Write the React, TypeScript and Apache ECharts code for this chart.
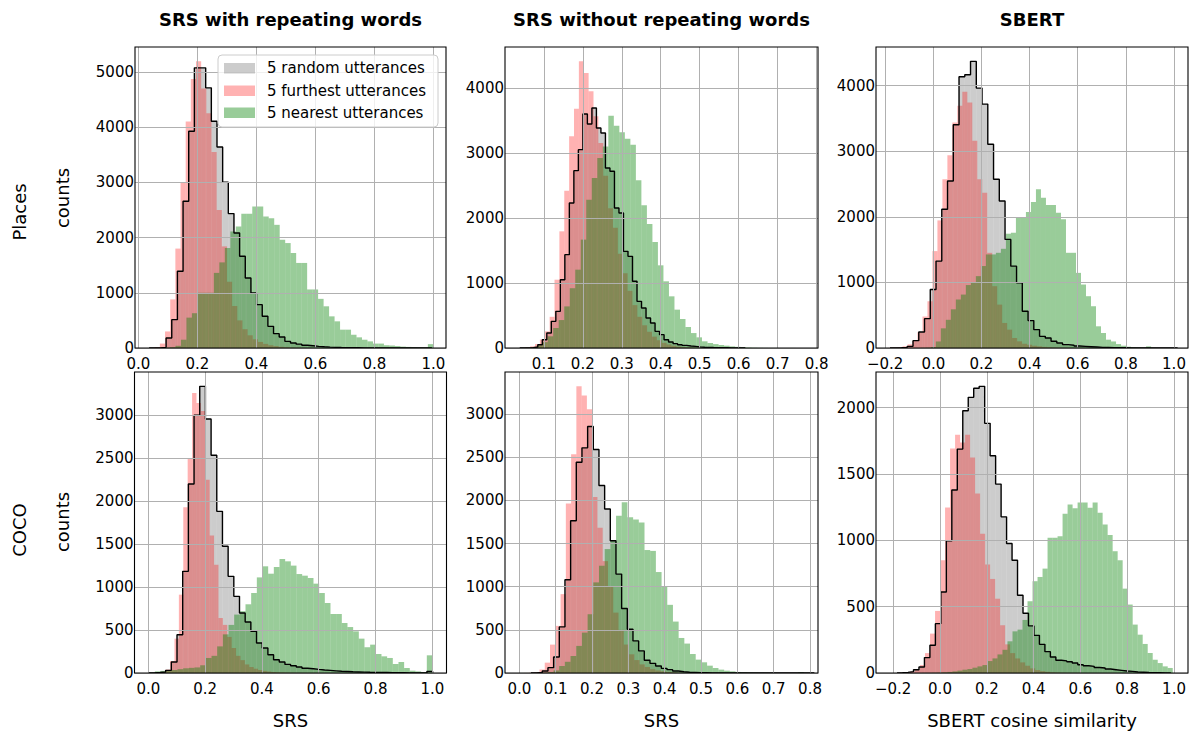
import React, { useEffect, useRef } from "react";
import * as echarts from "echarts";

// ---------- tick values ----------
const X_TICKS_0_TO_1 = [0, 0.2, 0.4, 0.6, 0.8, 1.0];
const X_TICKS_01_TO_08 = [0.1, 0.2, 0.3, 0.4, 0.5, 0.6, 0.7, 0.8];
const X_TICKS_0_TO_08 = [0, 0.1, 0.2, 0.3, 0.4, 0.5, 0.6, 0.7, 0.8];
const X_TICKS_M02_TO_1 = [-0.2, 0, 0.2, 0.4, 0.6, 0.8, 1.0];
const Y_TICKS_5000 = [0, 1000, 2000, 3000, 4000, 5000];
const Y_TICKS_4000 = [0, 1000, 2000, 3000, 4000];
const Y_TICKS_3000 = [0, 500, 1000, 1500, 2000, 2500, 3000];
const Y_TICKS_2000 = [0, 500, 1000, 1500, 2000];

// ---------- texts ----------
const COLUMN_TITLES = ["SRS with repeating words", "SRS without repeating words", "SBERT"];
const ROW_NAMES = ["Places", "COCO"];
const X_NAMES = ["SRS", "SRS", "SBERT cosine similarity"];
const LEGEND_NAMES = ["5 random utterances", "5 furthest utterances", "5 nearest utterances"];

// ---------- Places / SRS with repeating words ----------
const p1RandomStart = 0.0366, p1RandomWidth = 0.01917;
const p1RandomCounts = [0, 2, 12, 180, 513, 1390, 2657, 3925, 5072, 5072, 4710, 4106, 3640, 3000, 2433, 2083, 1660, 1268, 996, 785, 574, 392, 260, 200, 120, 90, 70, 50, 40, 30, 22, 16, 12, 9, 7, 5, 4, 3, 2, 2, 1, 1, 1, 1, 0, 0, 0, 0, 0, 1];
const p1FurthestStart = 0.0555, p1FurthestWidth = 0.0175;
const p1FurthestCounts = [15, 80, 300, 880, 1800, 3000, 4100, 4870, 5190, 4700, 4250, 3550, 2500, 1840, 1200, 760, 500, 340, 230, 160, 110, 75, 50, 35, 22, 14, 9, 6, 4, 2, 1, 1, 1, 1, 0, 0, 0, 0, 0, 0, 0, 0, 0, 0, 0, 0, 0, 0, 0, 0];
const p1NearestStart = 0.07, p1NearestWidth = 0.0186;
const p1NearestCounts = [2, 8, 15, 40, 150, 550, 630, 1000, 1000, 1000, 1360, 1550, 1810, 2110, 2200, 2430, 2430, 2560, 2560, 2380, 2350, 2230, 1960, 1900, 1720, 1540, 1540, 1060, 1060, 890, 755, 573, 483, 332, 332, 240, 193, 150, 120, 80, 80, 50, 45, 35, 25, 20, 15, 10, 8, 70];

// ---------- Places / SRS without repeating words ----------
const p2RandomStart = 0.0383, p2RandomWidth = 0.01157;
const p2RandomCounts = [1, 2, 5, 15, 51, 128, 230, 410, 564, 1051, 1436, 2231, 2728, 3051, 3600, 3446, 3692, 3385, 3308, 2769, 2718, 2154, 2077, 1487, 1410, 1026, 718, 615, 462, 385, 256, 205, 128, 92, 67, 51, 40, 30, 25, 18, 12, 10, 7, 5, 4, 3, 2, 1, 1, 1];
const p2FurthestStart = 0.0525, p2FurthestWidth = 0.0125;
const p2FurthestCounts = [8, 25, 60, 130, 256, 480, 1051, 1795, 2420, 3256, 3682, 4410, 4230, 3950, 3564, 3154, 2650, 2150, 1850, 1450, 1150, 880, 660, 480, 350, 250, 175, 120, 80, 55, 35, 22, 14, 9, 6, 4, 3, 2, 1, 1, 1, 0, 0, 0, 0, 0, 0, 0, 0, 0];
const p2NearestStart = 0.0393, p2NearestWidth = 0.01414;
const p2NearestCounts = [2, 5, 15, 40, 90, 180, 308, 430, 640, 920, 1205, 1667, 2282, 2615, 2923, 3100, 3574, 3420, 3318, 3220, 3128, 2580, 2195, 1908, 1631, 1272, 1026, 795, 590, 446, 323, 230, 164, 103, 77, 60, 46, 36, 25, 18, 12, 8, 5, 3, 2, 1, 1, 0, 0, 1];

// ---------- Places / SBERT ----------
const p3RandomStart = -0.18, p3RandomWidth = 0.0239;
const p3RandomCounts = [2, 5, 10, 25, 112, 245, 448, 892, 1325, 2115, 2548, 3404, 4138, 4168, 4372, 3964, 3720, 3108, 2573, 2242, 1656, 1248, 994, 560, 418, 280, 178, 153, 102, 76, 51, 41, 30, 25, 20, 15, 10, 8, 6, 4, 3, 2, 2, 1, 1, 0, 0, 0, 0, 0];
const p3FurthestStart = -0.19, p3FurthestWidth = 0.0207;
const p3FurthestCounts = [2, 5, 12, 25, 55, 110, 240, 480, 713, 1478, 1946, 2573, 2940, 3439, 3694, 3908, 3745, 3159, 2573, 2369, 1452, 943, 662, 382, 280, 153, 102, 66, 50, 35, 25, 18, 12, 8, 5, 3, 2, 2, 1, 1, 1, 0, 0, 0, 0, 0, 0, 0, 0, 0];
const p3NearestStart = -0.052, p3NearestWidth = 0.0208;
const p3NearestCounts = [2, 5, 15, 100, 300, 430, 590, 740, 815, 960, 1000, 1096, 1250, 1427, 1427, 1452, 1513, 1743, 1758, 1987, 1987, 2074, 2227, 2420, 2293, 2180, 2180, 2064, 1962, 1452, 1452, 1146, 968, 790, 637, 331, 229, 127, 100, 60, 35, 20, 12, 8, 5, 25, 3, 1, 1, 1];

// ---------- COCO / SRS with repeating words ----------
const p4RandomStart = 0.001, p4RandomWidth = 0.02;
const p4RandomCounts = [2, 5, 12, 31, 128, 446, 1183, 2200, 3000, 3337, 2957, 2534, 1882, 1475, 1125, 892, 698, 594, 485, 349, 291, 213, 155, 128, 100, 85, 70, 55, 50, 42, 35, 30, 25, 20, 17, 14, 12, 10, 8, 7, 6, 5, 4, 3, 3, 2, 2, 2, 1, 19];
const p4FurthestStart = 0.0145, p4FurthestWidth = 0.0155;
const p4FurthestCounts = [2, 5, 10, 40, 140, 400, 912, 1929, 2503, 3260, 3143, 3050, 2250, 1600, 1260, 640, 560, 420, 291, 200, 150, 100, 70, 50, 35, 25, 17, 12, 8, 6, 4, 3, 2, 2, 1, 1, 1, 1, 0, 0, 0, 0, 0, 0, 0, 0, 0, 0, 0, 0];
const p4NearestStart = 0.003, p4NearestWidth = 0.01995;
const p4NearestCounts = [3, 19, 25, 30, 35, 45, 55, 60, 65, 90, 175, 200, 310, 450, 560, 680, 720, 800, 931, 1113, 1242, 1156, 1234, 1327, 1300, 1250, 1152, 1133, 1106, 1040, 931, 815, 687, 687, 582, 535, 485, 400, 300, 330, 221, 194, 175, 105, 128, 58, 27, 19, 12, 206];

// ---------- COCO / SRS without repeating words ----------
const p5RandomStart = 0.032, p5RandomWidth = 0.0156;
const p5RandomCounts = [2, 5, 23, 62, 186, 534, 1080, 1765, 2443, 2609, 2857, 2590, 2172, 1901, 1533, 1146, 747, 507, 372, 256, 147, 112, 81, 54, 39, 23, 15, 8, 6, 4, 3, 2, 2, 1, 1, 1, 1, 0, 0, 0, 0, 0, 0, 0, 0, 0, 0, 0, 0, 0];
const p5FurthestStart = 0.012, p5FurthestWidth = 0.0145;
const p5FurthestCounts = [1, 3, 10, 40, 120, 329, 546, 914, 1963, 2535, 3322, 3217, 3055, 2040, 1684, 1297, 1000, 700, 500, 330, 217, 150, 100, 70, 45, 30, 20, 13, 8, 5, 3, 2, 1, 1, 1, 0, 0, 0, 0, 0, 0, 0, 0, 0, 0, 0, 0, 0, 0, 0];
const p5NearestStart = 0.0, p5NearestWidth = 0.01566;
const p5NearestCounts = [1, 1, 1, 2, 5, 12, 30, 81, 130, 197, 314, 468, 681, 1050, 1243, 1436, 1541, 1823, 1978, 1804, 1780, 1745, 1425, 1415, 1170, 1003, 790, 596, 406, 341, 220, 155, 124, 85, 58, 39, 27, 19, 12, 8, 5, 3, 2, 1, 1, 0, 0, 0, 0, 10];

// ---------- COCO / SBERT ----------
const p6RandomStart = -0.1835, p6RandomWidth = 0.0234;
const p6RandomCounts = [2, 5, 10, 25, 45, 116, 209, 372, 611, 996, 1379, 1688, 1977, 2078, 2146, 2161, 1882, 1638, 1424, 1177, 976, 850, 586, 450, 355, 284, 216, 161, 121, 96, 91, 85, 75, 62, 55, 50, 42, 38, 30, 25, 20, 15, 12, 8, 6, 4, 3, 2, 1, 1];
const p6FurthestStart = -0.171, p6FurthestWidth = 0.0214;
const p6FurthestCounts = [2, 5, 10, 25, 60, 150, 297, 468, 850, 1248, 1693, 1796, 1738, 1796, 1625, 1353, 1050, 818, 709, 560, 360, 216, 150, 110, 80, 55, 35, 22, 14, 9, 5, 3, 2, 1, 1, 1, 0, 0, 0, 0, 0, 0, 0, 0, 0, 0, 0, 0, 0, 0];
const p6NearestStart = -0.0754, p6NearestWidth = 0.0214;
const p6NearestCounts = [1, 1, 2, 3, 5, 8, 12, 18, 25, 30, 40, 50, 60, 90, 110, 140, 175, 239, 314, 327, 400, 541, 692, 724, 787, 1019, 1019, 1031, 1200, 1270, 1242, 1285, 1285, 1245, 1285, 1208, 1120, 1040, 918, 850, 636, 516, 365, 289, 219, 151, 100, 75, 50, 38];

// ---------- styling ----------
const FONT = "DejaVu Sans";
const GRAY_FILL = "rgba(128,128,128,0.4)";
const RED_FILL = "rgba(255,0,0,0.3)";
const GREEN_FILL = "rgba(0,128,0,0.4)";
const GRID_LINE = "#b0b0b0";

type Hist = { start: number; width: number; counts: number[] };

const PANELS = [
  { rect: { left: 135, top: 47, width: 311, height: 301 }, xMin: -0.0113, xMax: 1.0429, xTicks: X_TICKS_0_TO_1, yTicks: Y_TICKS_5000,
    random: { start: p1RandomStart, width: p1RandomWidth, counts: p1RandomCounts },
    furthest: { start: p1FurthestStart, width: p1FurthestWidth, counts: p1FurthestCounts },
    nearest: { start: p1NearestStart, width: p1NearestWidth, counts: p1NearestCounts } },
  { rect: { left: 505, top: 47, width: 313, height: 301 }, xMin: 0.0005, xMax: 0.8034, xTicks: X_TICKS_01_TO_08, yTicks: Y_TICKS_4000,
    random: { start: p2RandomStart, width: p2RandomWidth, counts: p2RandomCounts },
    furthest: { start: p2FurthestStart, width: p2FurthestWidth, counts: p2FurthestCounts },
    nearest: { start: p2NearestStart, width: p2NearestWidth, counts: p2NearestCounts } },
  { rect: { left: 876, top: 47, width: 312, height: 301 }, xMin: -0.2382, xMax: 1.0582, xTicks: X_TICKS_M02_TO_1, yTicks: Y_TICKS_4000,
    random: { start: p3RandomStart, width: p3RandomWidth, counts: p3RandomCounts },
    furthest: { start: p3FurthestStart, width: p3FurthestWidth, counts: p3FurthestCounts },
    nearest: { start: p3NearestStart, width: p3NearestWidth, counts: p3NearestCounts } },
  { rect: { left: 134.5, top: 372, width: 312, height: 301 }, xMin: -0.0487, xMax: 1.0499, xTicks: X_TICKS_0_TO_1, yTicks: Y_TICKS_3000,
    random: { start: p4RandomStart, width: p4RandomWidth, counts: p4RandomCounts },
    furthest: { start: p4FurthestStart, width: p4FurthestWidth, counts: p4FurthestCounts },
    nearest: { start: p4NearestStart, width: p4NearestWidth, counts: p4NearestCounts } },
  { rect: { left: 505, top: 372, width: 313, height: 301 }, xMin: -0.0394, xMax: 0.822, xTicks: X_TICKS_0_TO_08, yTicks: Y_TICKS_3000,
    random: { start: p5RandomStart, width: p5RandomWidth, counts: p5RandomCounts },
    furthest: { start: p5FurthestStart, width: p5FurthestWidth, counts: p5FurthestCounts },
    nearest: { start: p5NearestStart, width: p5NearestWidth, counts: p5NearestCounts } },
  { rect: { left: 876, top: 372, width: 312, height: 301 }, xMin: -0.2735, xMax: 1.0598, xTicks: X_TICKS_M02_TO_1, yTicks: Y_TICKS_2000,
    random: { start: p6RandomStart, width: p6RandomWidth, counts: p6RandomCounts },
    furthest: { start: p6FurthestStart, width: p6FurthestWidth, counts: p6FurthestCounts },
    nearest: { start: p6NearestStart, width: p6NearestWidth, counts: p6NearestCounts } },
];

function toBins(h: Hist) {
  return h.counts.map((c, i) => [h.start + i * h.width, h.start + (i + 1) * h.width, c]);
}

function toOutline(h: Hist) {
  const pts: number[][] = [[h.start, 0]];
  h.counts.forEach((c, i) => {
    pts.push([h.start + i * h.width, c]);
    pts.push([h.start + (i + 1) * h.width, c]);
  });
  pts.push([h.start + h.counts.length * h.width, 0]);
  return pts;
}

function makeRender(fill: string) {
  return (params: any, api: any) => {
    const a = api.coord([api.value(0), api.value(2)]);
    const b = api.coord([api.value(1), 0]);
    return {
      type: "rect",
      shape: { x: a[0], y: a[1], width: b[0] - a[0], height: b[1] - a[1] },
      style: { fill },
    };
  };
}

const fmtX = (v: number) => (Math.abs(v) < 1e-9 ? 0 : v).toFixed(1).replace("-", "\u2212");
const fmtY = (v: number) => String(Math.round(v));

function buildOption() {
  const grid: any[] = [];
  const xAxis: any[] = [];
  const yAxis: any[] = [];
  const series: any[] = [];
  PANELS.forEach((p, i) => {
    const maxCount = Math.max(...p.random.counts, ...p.furthest.counts, ...p.nearest.counts);
    grid.push({
      ...p.rect,
      show: true,
      borderColor: "#000",
      borderWidth: 1.1,
      backgroundColor: "rgba(0,0,0,0)",
      z: 10,
      containLabel: false,
    });
    xAxis.push({
      type: "value",
      gridIndex: i,
      min: p.xMin,
      max: p.xMax,
      z: 8,
      axisLine: { show: false },
      axisTick: { show: false, customValues: p.xTicks },
      axisLabel: {
        customValues: p.xTicks,
        formatter: fmtX,
        fontSize: 15,
        fontFamily: FONT,
        color: "#000",
        margin: 8,
        showMinLabel: true,
        showMaxLabel: true,
      },
      splitLine: { show: true, lineStyle: { color: GRID_LINE, width: 1 } },
    });
    yAxis.push({
      type: "value",
      gridIndex: i,
      min: 0,
      max: maxCount * 1.05,
      z: 8,
      axisLine: { show: false },
      axisTick: { show: false, customValues: p.yTicks },
      axisLabel: {
        customValues: p.yTicks,
        formatter: fmtY,
        fontSize: 15,
        fontFamily: FONT,
        color: "#000",
        margin: 1,
        showMinLabel: true,
        showMaxLabel: true,
      },
      splitLine: { show: true, lineStyle: { color: GRID_LINE, width: 1 } },
    });
    const hists: [Hist, string, number][] = [
      [p.random, GRAY_FILL, 2],
      [p.furthest, RED_FILL, 3],
      [p.nearest, GREEN_FILL, 4],
    ];
    hists.forEach(([h, fill, z], k) => {
      series.push({
        type: "custom",
        name: LEGEND_NAMES[k],
        xAxisIndex: i,
        yAxisIndex: i,
        data: toBins(h),
        encode: { x: [0, 1], y: 2 },
        renderItem: makeRender(fill),
        z,
        silent: true,
        clip: true,
      });
    });
    series.push({
      type: "line",
      xAxisIndex: i,
      yAxisIndex: i,
      data: toOutline(p.random),
      symbol: "none",
      showSymbol: false,
      lineStyle: { color: "#000", width: 1.4 },
      z: 5,
      silent: true,
      clip: true,
    });
  });

  const texts: any[] = [];
  const colCenters = PANELS.slice(0, 3).map((p) => p.rect.left + p.rect.width / 2);
  COLUMN_TITLES.forEach((t, i) => {
    texts.push({
      type: "text",
      x: colCenters[i],
      y: 19,
      z: 100,
      style: { text: t, fill: "#000", fontSize: 18, fontWeight: "bold", fontFamily: FONT, textAlign: "center", textVerticalAlign: "middle", align: "center", verticalAlign: "middle" },
    });
  });
  X_NAMES.forEach((t, i) => {
    texts.push({
      type: "text",
      x: colCenters[i],
      y: 720,
      z: 100,
      style: { text: t, fill: "#000", fontSize: 18, fontFamily: FONT, textAlign: "center", textVerticalAlign: "middle", align: "center", verticalAlign: "middle" },
    });
  });
  const rowCenters = [212, 530];
  const countCenters = [198, 522];
  ROW_NAMES.forEach((t, i) => {
    texts.push({
      type: "text",
      x: 19,
      y: rowCenters[i],
      rotation: Math.PI / 2,
      z: 100,
      style: { text: t, fill: "#000", fontSize: 18, fontFamily: FONT, textAlign: "center", textVerticalAlign: "middle", align: "center", verticalAlign: "middle" },
    });
    texts.push({
      type: "text",
      x: 62,
      y: countCenters[i],
      rotation: Math.PI / 2,
      z: 100,
      style: { text: "counts", fill: "#000", fontSize: 18, fontFamily: FONT, textAlign: "center", textVerticalAlign: "middle", align: "center", verticalAlign: "middle" },
    });
  });

  // legend (first panel)
  const legendFills = [GRAY_FILL, RED_FILL, GREEN_FILL];
  const legendRowY = [68, 90.5, 112.5];
  const legendChildren: any[] = [
    {
      type: "rect",
      shape: { x: 218, y: 55, width: 220, height: 72, r: 4 },
      style: { fill: "rgba(255,255,255,0.8)", stroke: "#cccccc", lineWidth: 1 },
      z: 100,
    },
  ];
  LEGEND_NAMES.forEach((name, k) => {
    legendChildren.push({
      type: "rect",
      shape: { x: 224, y: legendRowY[k] - 5, width: 31, height: 10.5 },
      style: { fill: legendFills[k] },
      z: 101,
    });
    legendChildren.push({
      type: "text",
      x: 267,
      y: legendRowY[k],
      z: 101,
      style: { text: name, fill: "#000", fontSize: 15, fontFamily: FONT, textAlign: "left", textVerticalAlign: "middle", align: "left", verticalAlign: "middle" },
    });
  });

  return {
    animation: false,
    backgroundColor: "#ffffff",
    grid,
    xAxis,
    yAxis,
    series,
    graphic: [...texts, ...legendChildren],
  };
}

export default function App() {
  const ref = useRef<HTMLDivElement>(null);
  useEffect(() => {
    if (!ref.current) return;
    const chart = echarts.init(ref.current, null, { renderer: "svg" });
    chart.setOption(buildOption() as any);
    return () => chart.dispose();
  }, []);
  return (
    <div
      ref={ref}
      style={{ position: "absolute", left: 0, top: 0, width: 1189, height: 731, background: "#fff" }}
    />
  );
}
